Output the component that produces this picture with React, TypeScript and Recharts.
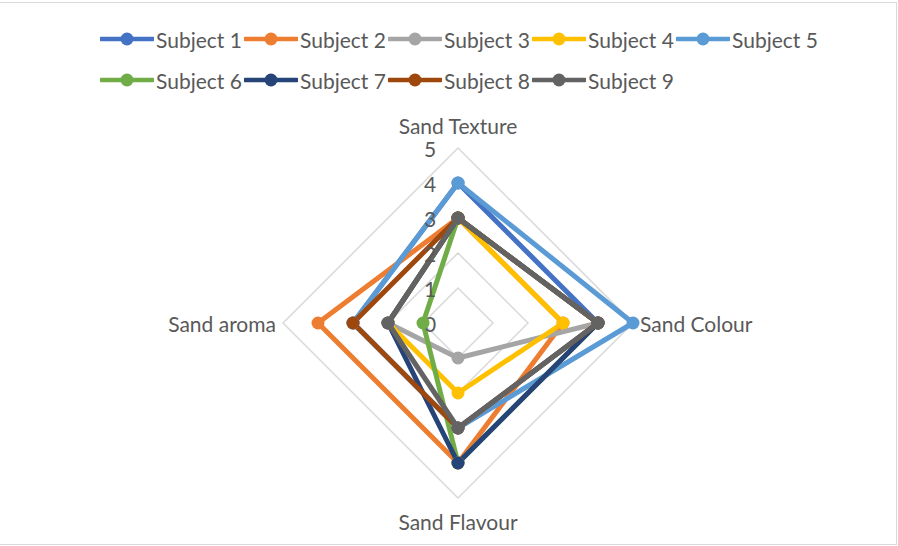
import React from 'react';
import { RadarChart, Radar, PolarGrid, PolarAngleAxis, PolarRadiusAxis } from 'recharts';

const CATEGORIES = ['Sand Texture', 'Sand Colour', 'Sand Flavour', 'Sand aroma'];
const SUBJECTS = ['Subject 1', 'Subject 2', 'Subject 3', 'Subject 4', 'Subject 5', 'Subject 6', 'Subject 7', 'Subject 8', 'Subject 9'];
const COLORS = ['#4472C4', '#ED7D31', '#A5A5A5', '#FFC000', '#5B9BD5', '#70AD47', '#264478', '#9E480E', '#636363'];

const SUBJECT_1 = [4, 4, 3, 3];
const SUBJECT_2 = [3, 3, 4, 4];
const SUBJECT_3 = [3, 4, 1, 2];
const SUBJECT_4 = [3, 3, 2, 2];
const SUBJECT_5 = [4, 5, 3, 3];
const SUBJECT_6 = [3, 4, 4, 1];
const SUBJECT_7 = [3, 4, 4, 2];
const SUBJECT_8 = [3, 4, 3, 3];
const SUBJECT_9 = [3, 4, 3, 2];
const SERIES = [SUBJECT_1, SUBJECT_2, SUBJECT_3, SUBJECT_4, SUBJECT_5, SUBJECT_6, SUBJECT_7, SUBJECT_8, SUBJECT_9];

const RADIUS_TICKS = [0, 1, 2, 3, 4, 5];
const GRID_VALUES = [1, 2, 5];

const W = 898;
const H = 546;
const CX = 458;
const CY = 323;
const OUTER = 175;
const FONT = 'Lato, "Open Sans", sans-serif';
const TEXT_COLOR = '#595959';
const FS = 21;

const data = CATEGORIES.map((category, i) => {
  const row: Record<string, any> = { category };
  SERIES.forEach((s, k) => {
    row['s' + k] = s[i];
  });
  return row;
});

const AngleTick = (props: any) => {
  const { x, y, payload } = props;
  const dx = x - CX;
  const dy = y - CY;
  const r = Math.hypot(dx, dy) || 1;
  const ux = dx / r;
  const uy = dy / r;
  const horiz = Math.abs(ux) > 0.5;
  const off = horiz ? 7 : 23;
  const tx = CX + ux * (OUTER + off);
  const ty = CY + uy * (OUTER + off);
  const anchor = horiz ? (ux > 0 ? 'start' : 'end') : 'middle';
  return (
    <text x={tx} y={ty} textAnchor={anchor} dominantBaseline="central" fontSize={FS} fontFamily={FONT} fill={TEXT_COLOR}>
      {payload.value}
    </text>
  );
};

const RadiusTick = (props: any) => {
  const { x, y, payload } = props;
  return (
    <text x={x - 28} y={y} textAnchor="middle" dominantBaseline="central" fontSize={FS} fontFamily={FONT} fill={TEXT_COLOR}>
      {payload.value}
    </text>
  );
};

const makeDot = (color: string) => (p: any) => (
  <circle key={`${color}-${p.index}`} cx={p.cx} cy={p.cy} r={6.5} fill={color} stroke="none" />
);

const LegendSymbol = ({ color }: { color: string }) => (
  <svg width={54} height={16} style={{ display: 'block' }}>
    <line x1={1} y1={8} x2={53} y2={8} stroke={color} strokeWidth={4.5} strokeLinecap="round" />
    <circle cx={27} cy={8} r={6.5} fill={color} />
  </svg>
);

export default function App() {
  return (
    <div style={{ position: 'fixed', left: 0, top: 0, width: W, height: H, background: '#fff', overflow: 'hidden' }}>
      <div
        style={{
          position: 'absolute',
          left: -2,
          top: 2,
          width: W + 1,
          height: H - 3,
          border: '1px solid #d9d9d9',
          boxSizing: 'border-box',
        }}
      />
      <div
        style={{
          position: 'absolute',
          left: 100,
          top: 27,
          width: 5 * 144,
          display: 'flex',
          flexWrap: 'wrap',
          rowGap: 17,
          fontFamily: FONT,
          fontSize: FS,
          color: TEXT_COLOR,
        }}
      >
        {SUBJECTS.map((name, i) => (
          <div key={name} style={{ width: 144, display: 'flex', alignItems: 'center', height: 24, whiteSpace: 'nowrap' }}>
            <LegendSymbol color={COLORS[i]} />
            <span style={{ marginLeft: 2 }}>{name}</span>
          </div>
        ))}
      </div>
      <RadarChart
        width={W}
        height={H}
        data={data}
        cx={CX}
        cy={CY}
        outerRadius={OUTER}
        margin={{ top: 0, right: 0, bottom: 0, left: 0 }}
        style={{ position: 'absolute', left: 0, top: 0 }}
      >
        <PolarGrid
          gridType="polygon"
          radialLines={false}
          stroke="#d9d9d9"
          strokeWidth={1.5}
          polarRadius={GRID_VALUES.map((v) => (v / RADIUS_TICKS[RADIUS_TICKS.length - 1]) * OUTER)}
        />
        <PolarAngleAxis dataKey="category" tick={AngleTick} tickLine={false} axisLine={false} />
        <PolarRadiusAxis
          angle={90}
          domain={[0, 5]}
          ticks={RADIUS_TICKS as any}
          tickCount={6}
          axisLine={false}
          tickLine={false}
          tick={RadiusTick}
        />
        {SUBJECTS.map((name, i) => (
          <Radar
            key={name}
            name={name}
            dataKey={'s' + i}
            stroke={COLORS[i]}
            strokeWidth={5}
            strokeLinejoin="round"
            fill="none"
            fillOpacity={0}
            dot={makeDot(COLORS[i])}
            isAnimationActive={false}
          />
        ))}
      </RadarChart>
    </div>
  );
}
